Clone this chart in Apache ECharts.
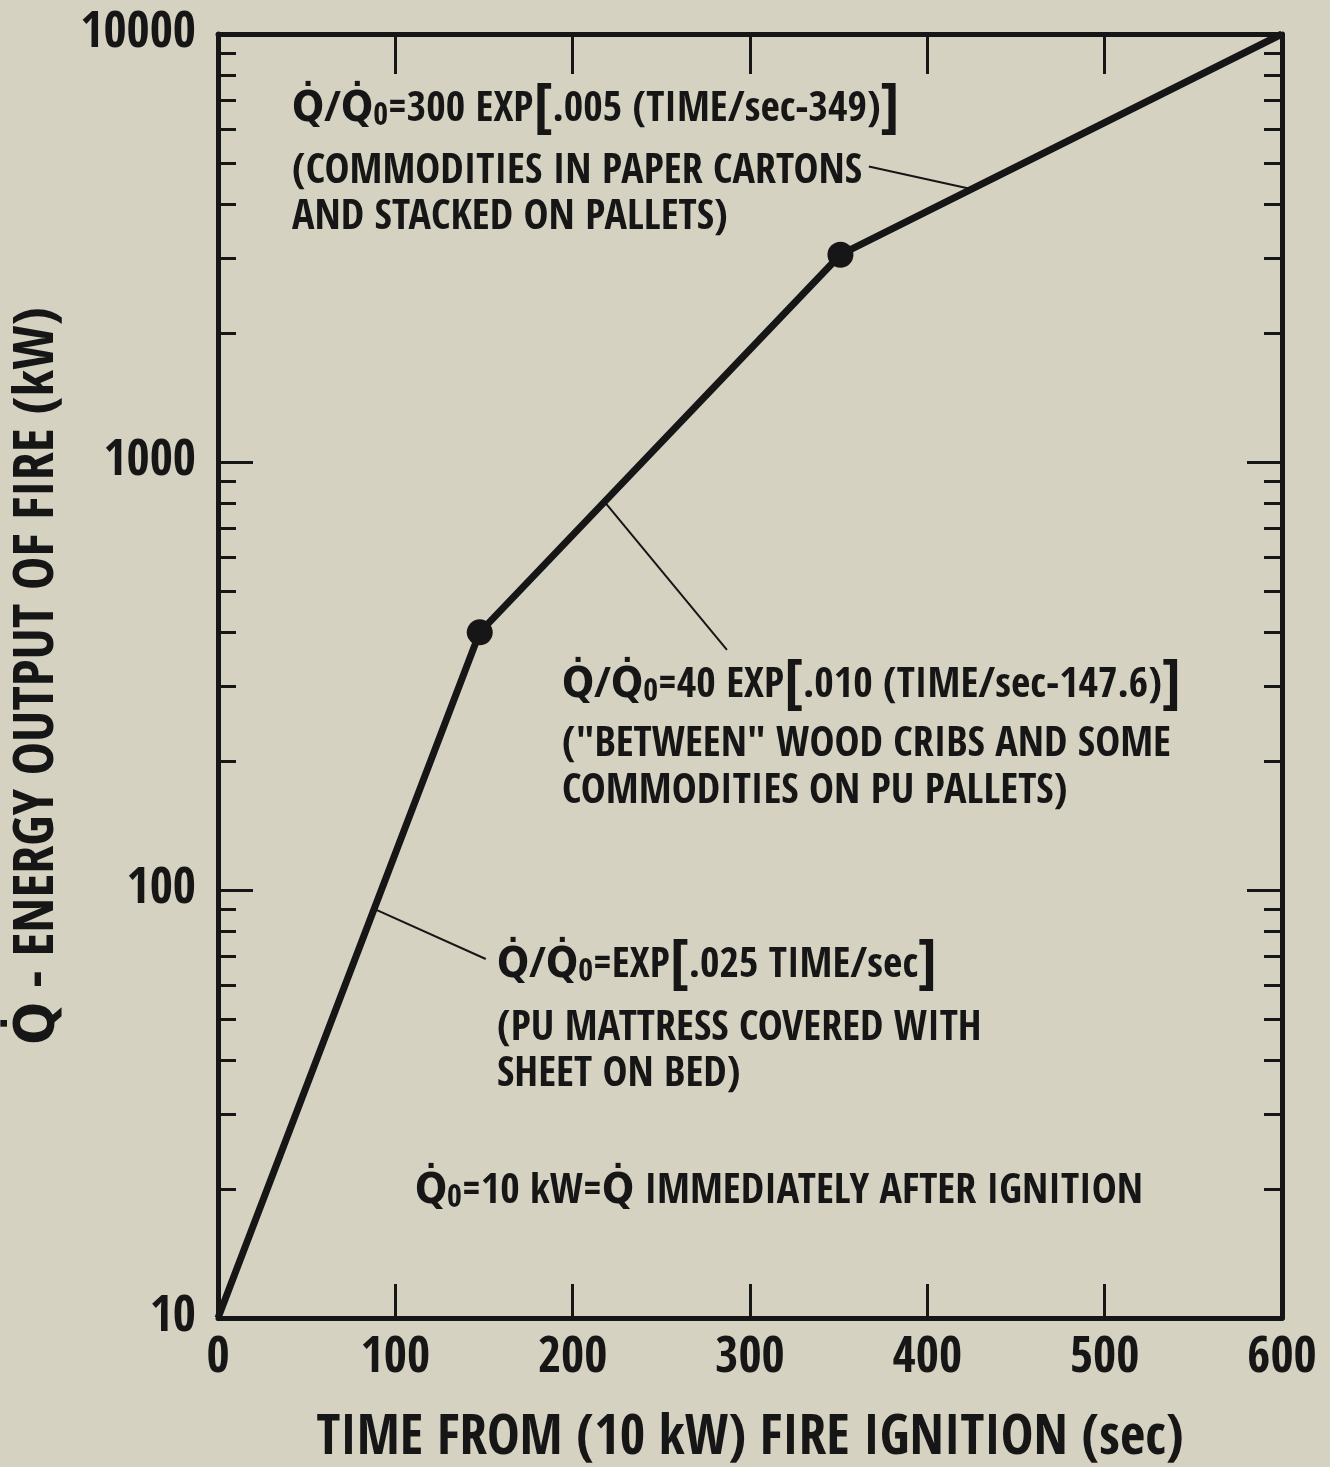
<!DOCTYPE html>
<html>
<head>
<meta charset="utf-8">
<title>Fire growth</title>
<script src="https://cdn.jsdelivr.net/npm/echarts@6/dist/echarts.min.js"></script>
<style>
  html, body { margin: 0; padding: 0; background: #d6d2c2; }
  #chart { width: 1330px; height: 1467px; }
</style>
</head>
<body>
<div id="chart"></div>
<script>
// corners of the growth curve: time (sec) and heat release (kW)
var times = [0, 147.6, 351, 600];
var power = [10, 400, 3050, 10000];
// breakpoints marked with a dot
var dotTimes = [147.6, 351];
var dotPower = [400, 3050];

// log axis minor ticks (2..9 of each decade)
var yMinor = [20, 30, 40, 50, 60, 70, 80, 90,
  200, 300, 400, 500, 600, 700, 800, 900,
  2000, 3000, 4000, 5000, 6000, 7000, 8000, 9000];

// leader lines from the notes to the curve: [t1, q1, t2, q2]
var leaders = [
  [367, 4900, 424, 4350],
  [218, 807, 287, 364],
  [89, 90, 151, 69]
];

var FONT = '"Open Sans Condensed", "DejaVu Sans Condensed", sans-serif';
var INK = '#161616';

var chart = echarts.init(document.getElementById('chart'));

var RICH = {
  a: { fontSize: 42, fontWeight: 'bold', fontFamily: FONT, fill: INK, lineHeight: 46 },
  s: { fontSize: 32, fontWeight: 'bold', fontFamily: FONT, fill: INK, lineHeight: 24, verticalAlign: 'bottom' },
  b: { fontSize: 60, fontWeight: 'bold', fontFamily: FONT, fill: INK, lineHeight: 46 }
};

// notes: text lines and where they sit (x left, y middle of the line)
var notes = [
  { x: 292, y: 110, text: '{a|Q̇/Q̇}{s|0}{a|=300 EXP}{b|[}{a|.005 (TIME/sec-349)}{b|]}' },
  { x: 292, y: 172, text: '{a|(COMMODITIES IN PAPER CARTONS}' },
  { x: 292, y: 218, text: '{a|AND STACKED ON PALLETS)}' },
  { x: 562, y: 686, text: '{a|Q̇/Q̇}{s|0}{a|=40 EXP}{b|[}{a|.010 (TIME/sec-147.6)}{b|]}' },
  { x: 562, y: 745, text: '{a|("BETWEEN" WOOD CRIBS AND SOME}' },
  { x: 562, y: 792, text: '{a|COMMODITIES ON PU PALLETS)}' },
  { x: 497, y: 966, text: '{a|Q̇/Q̇}{s|0}{a|=EXP}{b|[}{a|.025 TIME/sec}{b|]}' },
  { x: 497, y: 1029, text: '{a|(PU MATTRESS COVERED WITH}' },
  { x: 497, y: 1075, text: '{a|SHEET ON BED)}' },
  { x: 415, y: 1192, text: '{a|Q̇}{s|0}{a|=10 kW=Q̇ IMMEDIATELY AFTER IGNITION}' }
];

var axisLine = { show: true, onZero: false, lineStyle: { color: INK, width: 5 } };
var labelStyle = { fontSize: 50, fontWeight: 'bold', fontFamily: FONT, color: INK };

var option = {
  animation: false,
  backgroundColor: '#d6d2c2',
  grid: { left: 218, right: 48, top: 34, bottom: 149, outerBoundsMode: 'none' },
  xAxis: [
    {
      type: 'value', min: 0, max: 600, interval: 100, position: 'bottom',
      axisLine: axisLine,
      axisTick: { inside: true, length: 34, lineStyle: { color: INK, width: 3 } },
      axisLabel: Object.assign({ margin: 16 }, labelStyle),
      splitLine: { show: false },
      name: 'TIME FROM (10 kW) FIRE IGNITION (sec)',
      nameLocation: 'middle',
      nameGap: 94,
      nameTextStyle: { fontSize: 55, fontWeight: 'bold', fontFamily: FONT, color: INK }
    },
    {
      type: 'value', min: 0, max: 600, interval: 100, position: 'top',
      axisLine: axisLine,
      axisTick: { inside: true, length: 40, lineStyle: { color: INK, width: 3 } },
      axisLabel: { show: false },
      splitLine: { show: false }
    }
  ],
  yAxis: [
    {
      type: 'log', logBase: 10, min: 10, max: 10000, position: 'left',
      axisLine: axisLine,
      axisTick: { inside: true, length: 35, lineStyle: { color: INK, width: 3 } },
      axisLabel: Object.assign({ margin: 22, formatter: function (v) { return String(v); } }, labelStyle),
      splitLine: { show: false },
      name: 'Q̇ - ENERGY OUTPUT OF FIRE (kW)',
      nameLocation: 'middle',
      nameRotate: 90,
      nameGap: 152,
      nameTextStyle: { fontSize: 56, fontWeight: 'bold', fontFamily: FONT, color: INK }
    },
    {
      type: 'log', logBase: 10, min: 10, max: 10000, position: 'right',
      axisLine: axisLine,
      axisTick: { inside: true, length: 35, lineStyle: { color: INK, width: 3 } },
      axisLabel: { show: false },
      splitLine: { show: false }
    },
    // minor ticks, drawn on decade exponents
    {
      type: 'value', min: 1, max: 4, position: 'left',
      axisLine: { show: false, onZero: false },
      axisTick: { inside: true, length: 18, lineStyle: { color: INK, width: 3 },
        customValues: yMinor.map(function (v) { return Math.log10(v); }) },
      axisLabel: { show: false },
      splitLine: { show: false }
    },
    {
      type: 'value', min: 1, max: 4, position: 'right',
      axisLine: { show: false, onZero: false },
      axisTick: { inside: true, length: 18, lineStyle: { color: INK, width: 3 },
        customValues: yMinor.map(function (v) { return Math.log10(v); }) },
      axisLabel: { show: false },
      splitLine: { show: false }
    }
  ],
  series: [
    {
      type: 'line',
      data: times.map(function (t, i) { return [t, power[i]]; }),
      symbol: 'none',
      lineStyle: { color: INK, width: 7, join: 'round' },
      markLine: {
        silent: true,
        symbol: ['none', 'none'],
        label: { show: false },
        lineStyle: { color: INK, width: 2, type: 'solid' },
        data: leaders.map(function (l) {
          return [{ coord: [l[0], l[1]] }, { coord: [l[2], l[3]] }];
        })
      }
    },
    {
      type: 'scatter',
      data: dotTimes.map(function (t, i) { return [t, dotPower[i]]; }),
      symbolSize: 26,
      itemStyle: { color: INK, opacity: 1 }
    }
  ],
  graphic: notes.map(function (n) {
    return {
      type: 'text',
      x: n.x,
      y: n.y,
      silent: true,
      style: { text: n.text, rich: RICH, fill: INK, verticalAlign: 'middle' }
    };
  })
};

chart.setOption(option);
</script>
</body>
</html>
